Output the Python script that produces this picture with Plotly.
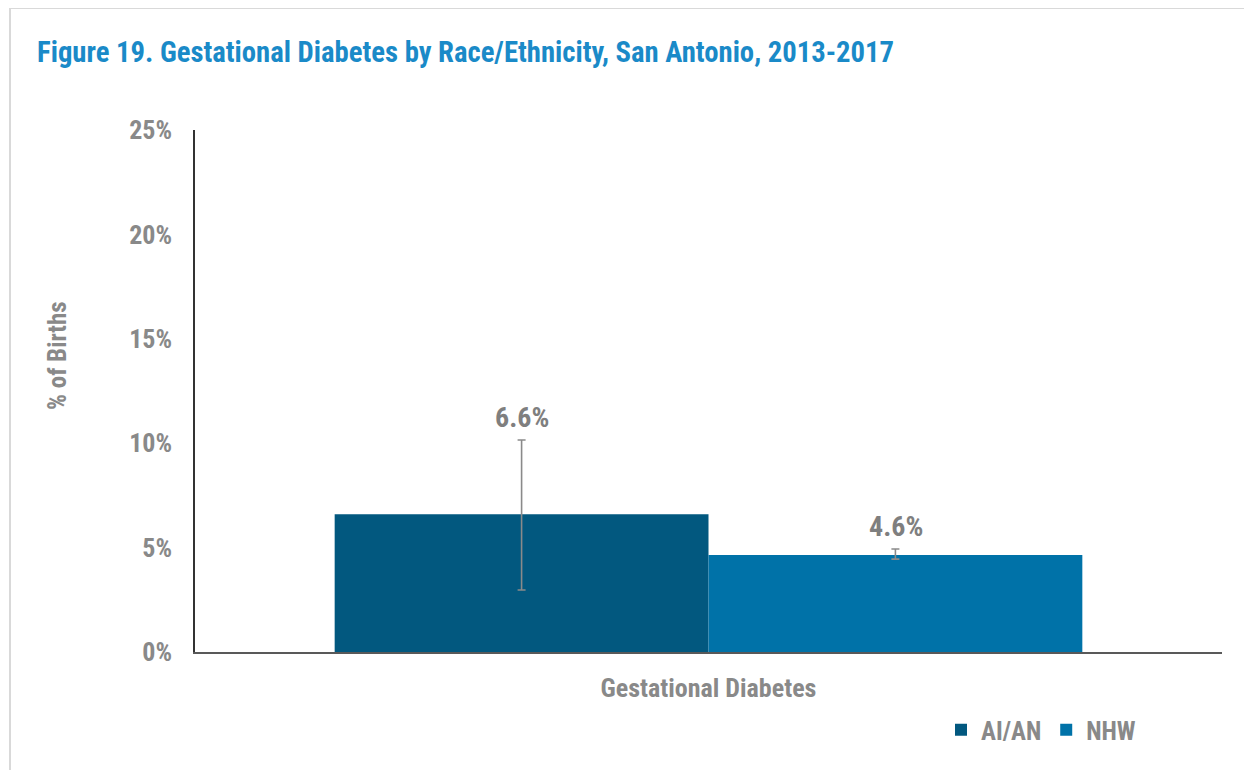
import plotly.graph_objects as go

categories = ["Gestational Diabetes"]
series_names = ["AI/AN", "NHW"]
values = [6.6, 4.65]
err_upper = [10.15, 4.93]
err_lower = [2.97, 4.45]
value_labels = ["6.6%", "4.6%"]
y_ticks = [0, 5, 10, 15, 20, 25]
y_ticklabels = ["0%", "5%", "10%", "15%", "20%", "25%"]

colors = ["#02587f", "#0072a8"]
FONT = "Liberation Sans Narrow, Arial Narrow, Roboto Condensed, Liberation Sans, sans-serif"
GRAY = "#898989"

# page is offset by 8px body margin; work in figure coordinates
OFF = 8
W, H = 1252, 770
L, R, T, B = 195 - OFF, 1252 - (1222 - OFF), 130 - OFF, 770 - (652 - OFF)

fig = go.Figure()
for i, name in enumerate(series_names):
    fig.add_trace(go.Bar(
        x=categories, y=[values[i]], name="<b>%s</b>" % name,
        marker=dict(color=colors[i], line=dict(width=0)),
        error_y=dict(type="data", symmetric=False,
                     array=[err_upper[i] - values[i]],
                     arrayminus=[values[i] - err_lower[i]],
                     color="#8a8a8a", thickness=1.6, width=4),
        offsetgroup=str(i),
    ))

pw, ph = W - L - R, H - T - B
def px(x): return (x - OFF - L) / pw
def py(y): return (H - B - (y - OFF)) / ph

fig.update_layout(
    width=W, height=H,
    margin=dict(l=L, r=R, t=T, b=B, autoexpand=False),
    paper_bgcolor="white", plot_bgcolor="white",
    barmode="group", bargap=0.272, bargroupgap=0,
    font=dict(family=FONT, color=GRAY, size=20),
    title=dict(text="<b>Figure 19. Gestational Diabetes by Race/Ethnicity, San Antonio, 2013-2017</b>",
               x=(37 - OFF) / W, xanchor="left", y=1 - (52 - OFF) / H, yanchor="middle",
               font=dict(family=FONT, size=28.7, color="#1a8ac8")),
    showlegend=True,
    legend=dict(orientation="h", x=px(941), xanchor="left",
                y=py(730), yanchor="middle",
                font=dict(family=FONT, size=25, color=GRAY), itemwidth=30,
                traceorder="normal", itemclick=False),
    xaxis=dict(showgrid=False, showline=True, linecolor="#595959", linewidth=2,
               ticks="", tickfont=dict(family=FONT, size=26, color=GRAY),
               ticklabelstandoff=12, zeroline=False,
               tickvals=categories, ticktext=["<b>%s</b>" % c for c in categories]),
    yaxis=dict(range=[0, 25], tickvals=y_ticks, ticktext=["<b>%s</b>" % t for t in y_ticklabels],
               showgrid=False, showline=True, linecolor="#333333", linewidth=1.5,
               ticks="", ticklabelstandoff=16, zeroline=False,
               tickfont=dict(family=FONT, size=26, color=GRAY)),
)

# y-axis title (placed as in the reference, above the plot centre)
fig.add_annotation(xref="paper", yref="paper", x=px(57), y=py(356),
                   text="<b>% of Births</b>", textangle=-90, showarrow=False,
                   xanchor="center", yanchor="middle",
                   font=dict(family=FONT, size=25, color=GRAY))

# value labels above error bars
for i in range(len(series_names)):
    fig.add_annotation(x=categories[0], y=err_upper[i], text="<b>%s</b>" % value_labels[i],
                       showarrow=False, yanchor="bottom", yshift=4,
                       xshift=(-1 if i == 0 else 1) * 187,
                       font=dict(family=FONT, size=28, color="#7f7f7f"))

# outer chart border (top and left edges)
fig.add_shape(type="line", xref="paper", yref="paper", x0=px(10), x1=px(1270),
              y0=py(8), y1=py(8), line=dict(color="#d9d9d9", width=2))
fig.add_shape(type="line", xref="paper", yref="paper", x0=px(10), x1=px(10),
              y0=py(8), y1=py(790), line=dict(color="#d9d9d9", width=2))

fig.write_html("out.html")
